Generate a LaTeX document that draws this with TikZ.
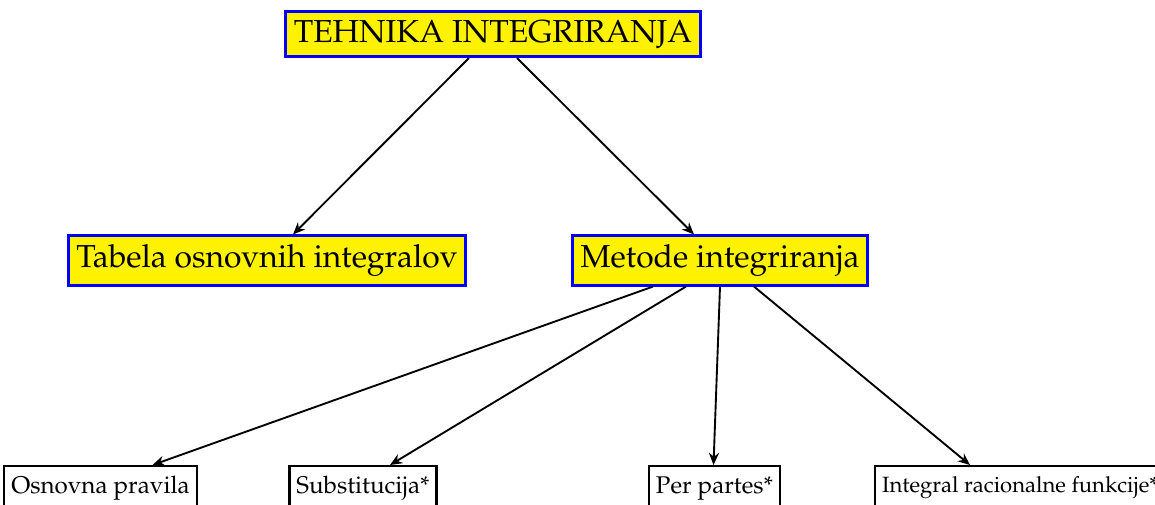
\documentclass[11pt,tikz,border=0pt]{standalone}
\usepackage[T1]{fontenc}
\usepackage{mathpazo}
\usepackage{xcolor}
\usetikzlibrary{arrows.meta,calc}
\definecolor{boxyellow}{RGB}{255,242,0}
\tikzset{
  YB/.style={draw=blue, fill=boxyellow, rectangle, align=center,
             font=\Large, inner xsep=3.6pt, inner ysep=3.9pt, line width=1.3pt},
  BB/.style={draw=black, rectangle, align=center, anchor=north,
             font=\normalsize, inner xsep=3.2pt, inner ysep=4.6pt, line width=1.1pt},
  SA/.style={-{Stealth[length=5.5pt,width=4.6pt]}, line width=0.85pt}
}

\begin{document}
\begin{tikzpicture}[x=0.4527pt, y=-0.4527pt]

\useasboundingbox (0,0) rectangle (1155,504);
\clip (0,0) rectangle (1155,504);

% Top
\node[YB] (TI) at (493, 34) {TEHNIKA INTEGRIRANJA};

% Second level
\node[YB] (TAB) at (267, 260.5) {Tabela osnovnih integralov};
\node[YB] (MET) at (720, 260.5) {Metode integriranja};

% Methods
\node[BB] (OSN) at (100.5, 465) {Osnovna pravila};
\node[BB] (SUB) at (363, 465)   {Substitucija*};
\node[BB] (PER) at (714.5, 465) {Per partes*};
\node[BB, font=\small] (RAC) at (1020, 465) {Integral racionalne funkcije*};

% -- Arrows from top --
\draw[SA] ($(TI.south)+(-24,0)$) -- ($(TAB.north)+(26,0)$);
\draw[SA] ($(TI.south)+(24,0)$)  -- ($(MET.north)+(-26,0)$);

% -- Arrows from methods --
\draw[SA] ($(MET.south)+(-67,0)$) -- ($(OSN.north)+(52,0)$);
\draw[SA] ($(MET.south)+(-34,0)$) -- ($(SUB.north)+(27,0)$);
\draw[SA] (MET.south)             -- ($(PER.north)+(-1,0)$);
\draw[SA] ($(MET.south)+(34,0)$)  -- ($(RAC.north)+(-50,0)$);

\end{tikzpicture}
\end{document}
